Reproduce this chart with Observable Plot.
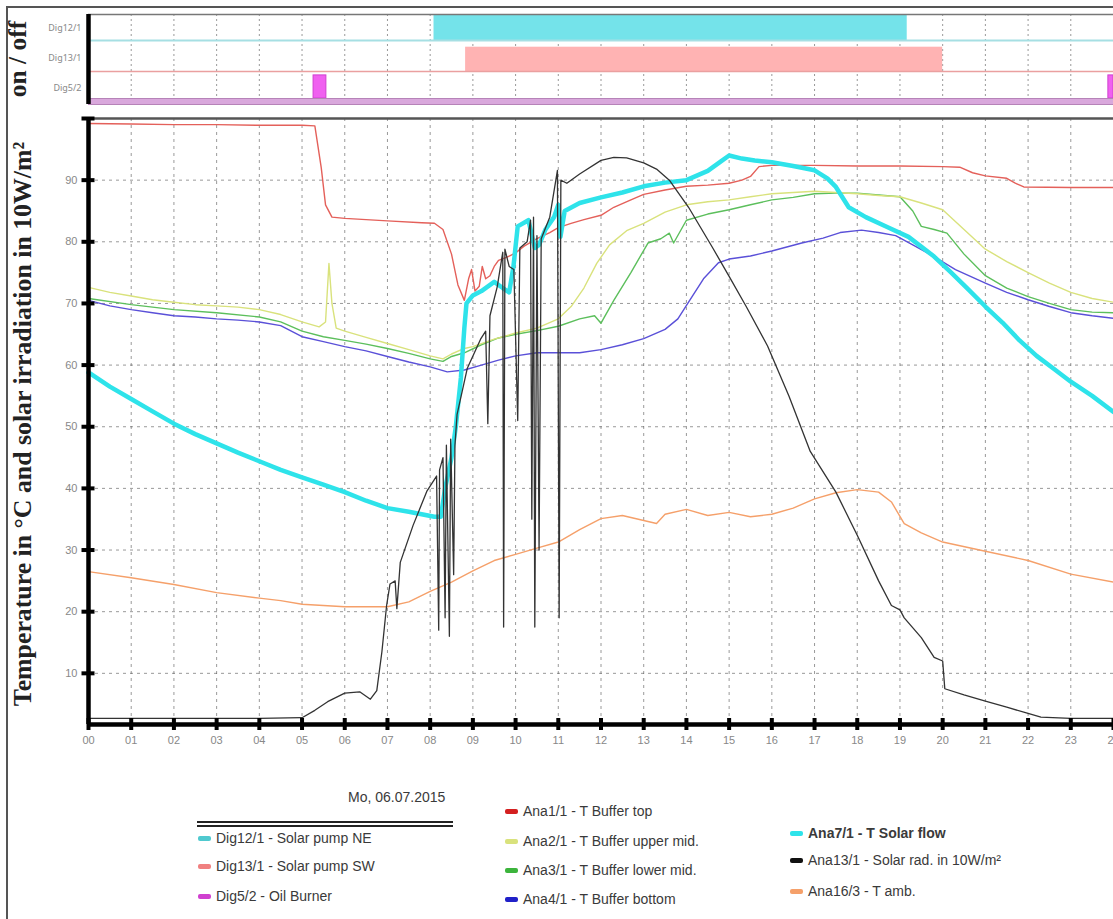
<!DOCTYPE html>
<html><head><meta charset="utf-8">
<script src="https://cdn.jsdelivr.net/npm/d3@7"></script>
<script src="https://cdn.jsdelivr.net/npm/@observablehq/plot@0.6"></script>
<style>
body{margin:0;background:#fff;}
#page{position:relative;width:1113px;height:919px;overflow:hidden;background:#fff;font-family:"Liberation Sans",Arial,sans-serif;}
#frame{position:absolute;left:6px;top:6px;width:1200px;height:1000px;border-left:2px solid #555;border-top:2px solid #555;}
#top{position:absolute;left:0;top:0;}
#main{position:absolute;left:0;top:108px;}
.rot{position:absolute;white-space:nowrap;font-family:"Liberation Serif","DejaVu Serif",serif;font-weight:bold;color:#222;transform:translate(-50%,-50%) rotate(-90deg);}
.leg{position:absolute;white-space:nowrap;font-size:14px;color:#3a3a3a;transform:translateY(-50%);}
.sw{display:inline-block;width:13px;height:5px;border-radius:2px;margin-right:5px;vertical-align:middle;position:relative;top:-1px;}
</style></head>
<body><div id="page"><div id="frame"></div><div id="top"></div><div id="main"></div>
<div class="rot" style="left:18px;top:59px;font-size:25.5px;">on / off</div>
<div class="rot" style="left:23px;top:424px;font-size:25.8px;">Temperature in °C and solar irradiation in 10W/m²</div>
<div id="legend"></div>
</div>
<script>
// ---------- data ----------
const hourTicks = d3.range(0, 25);
const tempTicks = [10, 20, 30, 40, 50, 60, 70, 80, 90];
const digitalChannels = ["Dig12/1", "Dig13/1", "Dig5/2"];
const digitalRows = [2, 1, 0];
// on-intervals [start hour, end hour]
const dig12On = [[8.09, 19.17]];
const dig13On = [[8.83, 20.0]];
const dig5On = [[5.27, 5.57], [23.88, 24]];

// analog series [hour, value]
const ana1 = [[0,99.2],[1,99.1],[2,99],[3,99],[4,98.9],[5,98.9],[5.3,98.8],[5.45,92],[5.55,86],[5.7,84],[6,83.8],[7,83.4],[7.8,83.1],[8.1,83],[8.3,82],[8.5,78],[8.65,73],[8.8,70.5],[8.9,74],[8.97,75.5],[9.05,72],[9.15,72.8],[9.22,76],[9.3,74],[9.4,74.5],[9.5,76],[9.6,77],[9.8,77.5],[10,78.2],[10.2,79.3],[10.5,80.5],[10.8,81.5],[11,82.3],[11.3,83],[11.6,83.6],[12,84.3],[12.3,85.6],[12.7,86.8],[13,87.7],[13.5,88.4],[14,89],[14.5,89.2],[15,89.5],[15.3,90],[15.5,90.6],[15.7,92.2],[16,92.4],[17,92.4],[18,92.3],[19,92.3],[20,92.2],[20.4,92.1],[20.7,91.2],[21,90.7],[21.5,90.3],[21.7,89.5],[21.9,88.9],[23,88.8],[24,88.8]];
const ana2 = [[0,72.6],[0.5,71.8],[1,71.2],[1.5,70.6],[2,70.2],[2.5,69.8],[3,69.6],[3.5,69.4],[4,69],[4.5,68.2],[5,67],[5.4,66.2],[5.55,67],[5.63,76.5],[5.7,70],[5.8,66],[6,65.5],[6.5,64.5],[7,63.5],[7.5,62.5],[8,61.5],[8.3,61],[8.5,61.8],[8.8,62.7],[9,63],[9.5,64.2],[10,65.2],[10.5,66],[11,67.5],[11.3,69.5],[11.6,72.5],[11.9,76.5],[12.2,79.5],[12.6,81.8],[13,83],[13.5,84.8],[14,86],[14.5,86.5],[15,86.8],[15.5,87.3],[16,87.8],[16.5,88],[17,88.2],[17.5,88],[18,87.8],[18.5,87.5],[19,87.3],[19.5,86.3],[20,85.2],[20.5,82],[21,78.8],[21.5,76.8],[22,75],[22.5,73.3],[23,71.8],[23.5,70.8],[24,70.2]];
const ana3 = [[0,70.8],[1,69.8],[2,69],[3,68.5],[4,67.8],[4.5,67],[5,65.5],[5.5,64.6],[6,64],[6.5,63.4],[7,62.7],[7.5,61.9],[8,61],[8.3,60.6],[8.5,61.4],[8.8,62],[9.2,63.3],[9.6,64.4],[10,65],[10.5,65.6],[11,66.3],[11.5,67.5],[11.85,68],[12,66.8],[12.3,70.5],[12.7,75],[13.1,79.8],[13.4,80.5],[13.6,81.4],[13.7,79.8],[14,83.5],[14.5,84.5],[15,85.2],[15.5,86],[16,86.8],[16.5,87.2],[17,87.8],[17.5,87.9],[18,87.9],[18.5,87.6],[19,87.3],[19.3,85],[19.5,82.5],[19.8,82],[20.1,81.4],[20.5,78],[21,74.5],[21.5,72.5],[22,71.1],[22.5,70],[23,69],[23.5,68.6],[24,68.5]];
const ana4 = [[0,70.5],[0.5,69.6],[1,69],[1.5,68.5],[2,68],[2.5,67.8],[3,67.5],[3.5,67.3],[4,67],[4.5,66.4],[5,64.6],[5.5,63.8],[6,63],[6.5,62.3],[7,61.4],[7.5,60.5],[8,59.7],[8.4,58.9],[8.8,59.2],[9.2,60],[9.6,60.8],[10,61.5],[10.5,62],[11,62],[11.5,62],[12,62.5],[12.5,63.3],[13,64.3],[13.5,65.8],[13.8,67.5],[14.05,70.2],[14.4,74],[14.75,76.6],[15,77.2],[15.5,77.7],[16,78.5],[16.7,79.8],[17.2,80.6],[17.6,81.5],[18.1,81.9],[18.5,81.5],[18.9,81],[19.3,79.5],[19.8,77.6],[20.3,75.5],[21,73.3],[21.5,71.8],[22,70.6],[22.5,69.5],[23,68.5],[23.5,68],[24,67.6]];
const ana7 = [[0,58.8],[0.5,56.5],[1,54.5],[1.5,52.5],[2,50.5],[2.5,48.8],[3,47.3],[3.5,45.8],[4,44.4],[4.5,43],[5,41.8],[5.5,40.6],[6,39.4],[6.5,38],[7,36.8],[7.5,36.2],[8.1,35.4],[8.25,35.4],[8.35,40],[8.5,45],[8.6,50],[8.72,58],[8.8,66],[8.85,70],[9,71.3],[9.2,72],[9.5,73.5],[9.7,72.5],[9.85,71.8],[9.95,76],[10.05,82.5],[10.3,83.5],[10.45,79],[10.55,79.5],[10.7,82],[10.9,84],[11.0,86],[11.05,80.8],[11.15,85],[11.5,86.3],[12,87.2],[12.5,88],[13,89],[13.5,89.6],[14,90],[14.5,91.5],[14.8,93],[15,94],[15.3,93.5],[15.6,93.2],[16,92.9],[16.5,92.3],[17,91.6],[17.3,90.3],[17.5,88.9],[17.8,85.6],[18.2,84],[18.7,82.4],[19.2,80.8],[19.8,77.6],[20.2,75],[20.6,72.3],[21,69.5],[21.4,66.9],[21.8,64],[22.2,61.5],[22.6,59.4],[23,57.3],[23.5,55],[24,52.4]];
const ana13 = [[0,2.7],[1,2.7],[2,2.7],[3,2.7],[4,2.7],[5,2.8],[5.3,4],[5.6,5.4],[6,6.8],[6.35,7],[6.6,5.8],[6.75,7.2],[6.87,13.5],[6.98,21],[7.06,24.5],[7.18,25],[7.22,20.5],[7.3,28],[7.6,34],[7.92,39.5],[8.15,42],[8.2,17],[8.22,43],[8.3,45],[8.35,19],[8.38,47],[8.45,16],[8.48,48],[8.55,26],[8.58,47],[8.63,52],[8.87,59.5],[9.18,64.2],[9.3,65.5],[9.35,50.5],[9.4,68],[9.57,72.7],[9.7,78.3],[9.72,17.5],[9.75,78.8],[9.85,76],[9.96,75.5],[10.05,51],[10.1,79],[10.27,80],[10.35,83.5],[10.38,35],[10.42,84],[10.45,17.5],[10.5,81],[10.55,30],[10.6,80.5],[10.8,84],[10.98,91.6],[11.02,19],[11.06,90],[11.2,89.5],[11.5,91],[12,93.2],[12.3,93.7],[12.6,93.6],[13,92.8],[13.3,91.8],[13.6,90],[14.05,85.6],[14.6,79.2],[15,74.4],[15.4,69.5],[15.9,63.1],[16.4,55],[16.9,46],[17.5,39.4],[18,32.4],[18.5,25],[18.8,21],[19,20.3],[19.1,19],[19.5,15.8],[19.8,12.6],[20,12],[20.05,7.5],[20.5,6.5],[21,5.5],[21.5,4.5],[22,3.5],[22.3,2.9],[23,2.7],[24,2.7]];
const ana16 = [[0,26.5],[1,25.5],[2,24.4],[3,23.1],[4,22.2],[4.5,21.8],[5,21.2],[6,20.8],[7,20.8],[7.5,21.6],[8,23.3],[8.5,24.8],[9,26.6],[9.5,28.3],[10,29.3],[10.5,30.3],[11,31.3],[11.5,33.3],[12,35.1],[12.5,35.6],[13,34.8],[13.3,34.3],[13.5,35.8],[14,36.6],[14.5,35.6],[15,36.1],[15.5,35.4],[16,35.8],[16.5,36.8],[17,38.3],[17.5,39.3],[18,39.8],[18.5,39.4],[18.8,37.8],[19.1,34.3],[19.5,32.8],[20,31.3],[21,29.8],[22,28.3],[23,26.1],[24,24.8]];

const legendCol1 = ["Dig12/1 - Solar pump NE", "Dig13/1 - Solar pump SW", "Dig5/2 - Oil Burner"];
const legendCol2 = ["Ana1/1 - T Buffer top", "Ana2/1 - T Buffer upper mid.", "Ana3/1 - T Buffer lower mid.", "Ana4/1 - T Buffer bottom"];
const legendCol3 = ["Ana7/1 - T Solar flow", "Ana13/1 - Solar rad. in 10W/m²", "Ana16/3 - T amb."];
const dateLabel = "Mo, 06.07.2015";

// ---------- styles ----------
const C = {
  dig12: "#74e3ea", dig12line: "#a6dfe3", dig13: "#ffb3b3", dig13line: "#eaa0a0",
  dig5: "#f060f0", dig5line: "#d9a8dc",
  ana1: "#e4605a", ana2: "#d9e27c", ana3: "#5cbf5c", ana4: "#5a50d8",
  ana7: "#2ee3ea", ana13: "#333333", ana16: "#f5a06a"
};
const W = 1113;
const xDomain = [0, 24];
const yMin = 1.7;

// ---------- top on/off panel ----------
const rowBase = [0.1, 1.1, 2.13];
const rowTop = [0.97, 1.91, 2.97];
const ivl = {x1: d => d[0], x2: d => d[1]};
const topChart = Plot.plot({
  width: W, height: 108,
  marginLeft: 88, marginRight: 0, marginTop: 14, marginBottom: 4,
  x: {domain: xDomain, axis: null},
  y: {domain: [0, 3], axis: null},
  style: {background: "transparent"},
  marks: [
    Plot.gridX(hourTicks, {stroke: "#555", strokeDasharray: "2,3", strokeOpacity: 0.6}),
    Plot.rect(dig12On, {...ivl, y1: rowBase[2], y2: rowTop[2], fill: C.dig12}),
    Plot.rect(dig13On, {...ivl, y1: rowBase[1], y2: rowTop[1], fill: C.dig13}),
    Plot.rect(dig5On, {...ivl, y1: 0.2, y2: rowTop[0], fill: C.dig5, stroke: "#d040d0", strokeWidth: 1}),
    Plot.ruleY([rowBase[2]], {stroke: C.dig12line, strokeWidth: 2}),
    Plot.ruleY([rowBase[1]], {stroke: C.dig13line, strokeWidth: 1.5}),
    Plot.ruleY([rowBase[0]], {stroke: C.dig5line, strokeWidth: 6}),
    Plot.ruleY([rowBase[0] - 0.1, rowBase[0] + 0.1], {stroke: "#b683b8", strokeWidth: 1}),
    Plot.ruleY([3], {stroke: "#777", strokeWidth: 1.5}),
    Plot.ruleX([0], {stroke: "black", strokeWidth: 4.5}),
    Plot.text(digitalChannels, {x: 0, y: (d, i) => digitalRows[i] + 0.55, dx: -7, textAnchor: "end", fontSize: 9, fill: "#888"})
  ]
});
document.getElementById("top").append(topChart);

// ---------- main chart ----------
const px = {x: d => d[0], y: d => d[1]};
const mainChart = Plot.plot({
  width: W, height: 652,
  marginLeft: 88, marginRight: 0, marginTop: 10, marginBottom: 36,
  x: {domain: xDomain},
  y: {domain: [yMin, 100]},
  style: {background: "transparent", fontFamily: "Liberation Sans, Arial, sans-serif"},
  marks: [
    Plot.gridX(hourTicks, {stroke: "#555", strokeDasharray: "3,4", strokeOpacity: 0.6}),
    Plot.gridY(tempTicks, {stroke: "#555", strokeDasharray: "3,4", strokeOpacity: 0.6}),
    Plot.ruleY([100], {stroke: "#555", strokeWidth: 2.5}),
    Plot.line(ana16, {...px, stroke: C.ana16, strokeWidth: 1.4}),
    Plot.line(ana4, {...px, stroke: C.ana4, strokeWidth: 1.4}),
    Plot.line(ana3, {...px, stroke: C.ana3, strokeWidth: 1.4}),
    Plot.line(ana2, {...px, stroke: C.ana2, strokeWidth: 1.4}),
    Plot.line(ana1, {...px, stroke: C.ana1, strokeWidth: 1.4}),
    Plot.line(ana7, {...px, stroke: C.ana7, strokeWidth: 4.5}),
    Plot.line(ana13, {...px, stroke: C.ana13, strokeWidth: 1.3}),
    Plot.ruleX([0], {stroke: "black", strokeWidth: 4.5}),
    Plot.ruleY([yMin], {stroke: "black", strokeWidth: 4.5}),
    Plot.axisY({ticks: tempTicks.concat([100]), tickSize: 13, dx: 6.5, strokeWidth: 4, stroke: "black", tickFormat: () => "", label: null}),
    Plot.axisY({ticks: tempTicks, tickSize: 0, tickPadding: 11, fontSize: 11, fill: "#888", label: null}),
    Plot.axisX({ticks: hourTicks, tickSize: 12, dy: -6, strokeWidth: 4, stroke: "black", tickFormat: () => "", label: null}),
    Plot.axisX({ticks: hourTicks, tickSize: 0, tickPadding: 12, fontSize: 11, fill: "#888", tickFormat: d => String(d).padStart(2, "0"), label: null})
  ]
});
document.getElementById("main").append(mainChart);

// ---------- legend ----------
const legend = document.getElementById("legend");
function addItem(text, color, x, y, bold) {
  const el = document.createElement("div");
  el.className = "leg";
  el.style.left = x + "px";
  el.style.top = y + "px";
  if (bold) el.style.fontWeight = "bold";
  const sw = document.createElement("span");
  sw.className = "sw";
  sw.style.background = color;
  el.append(sw, document.createTextNode(text));
  legend.append(el);
}
const date = document.createElement("div");
date.className = "leg";
date.style.left = "348px"; date.style.top = "797px";
date.textContent = dateLabel;
legend.append(date);
const ul = document.createElement("div");
ul.style.cssText = "position:absolute;left:197px;top:821px;width:256px;height:1.5px;border-top:2px solid #222;border-bottom:2px solid #222;";
legend.append(ul);
const col1Colors = ["#4fc9cf", "#f08080", "#d040d0"];
const col2Colors = ["#d42020", "#d9e27c", "#3cb43c", "#2020c8"];
const col3Colors = [C.ana7, "#111", C.ana16];
const col1Y = [838, 866, 896], col2Y = [811, 841, 870, 899], col3Y = [833, 860, 891];
legendCol1.forEach((t, i) => addItem(t, col1Colors[i], 198, col1Y[i]));
legendCol2.forEach((t, i) => addItem(t, col2Colors[i], 505, col2Y[i]));
legendCol3.forEach((t, i) => addItem(t, col3Colors[i], 790, col3Y[i], i === 0));
</script>
</body></html>
